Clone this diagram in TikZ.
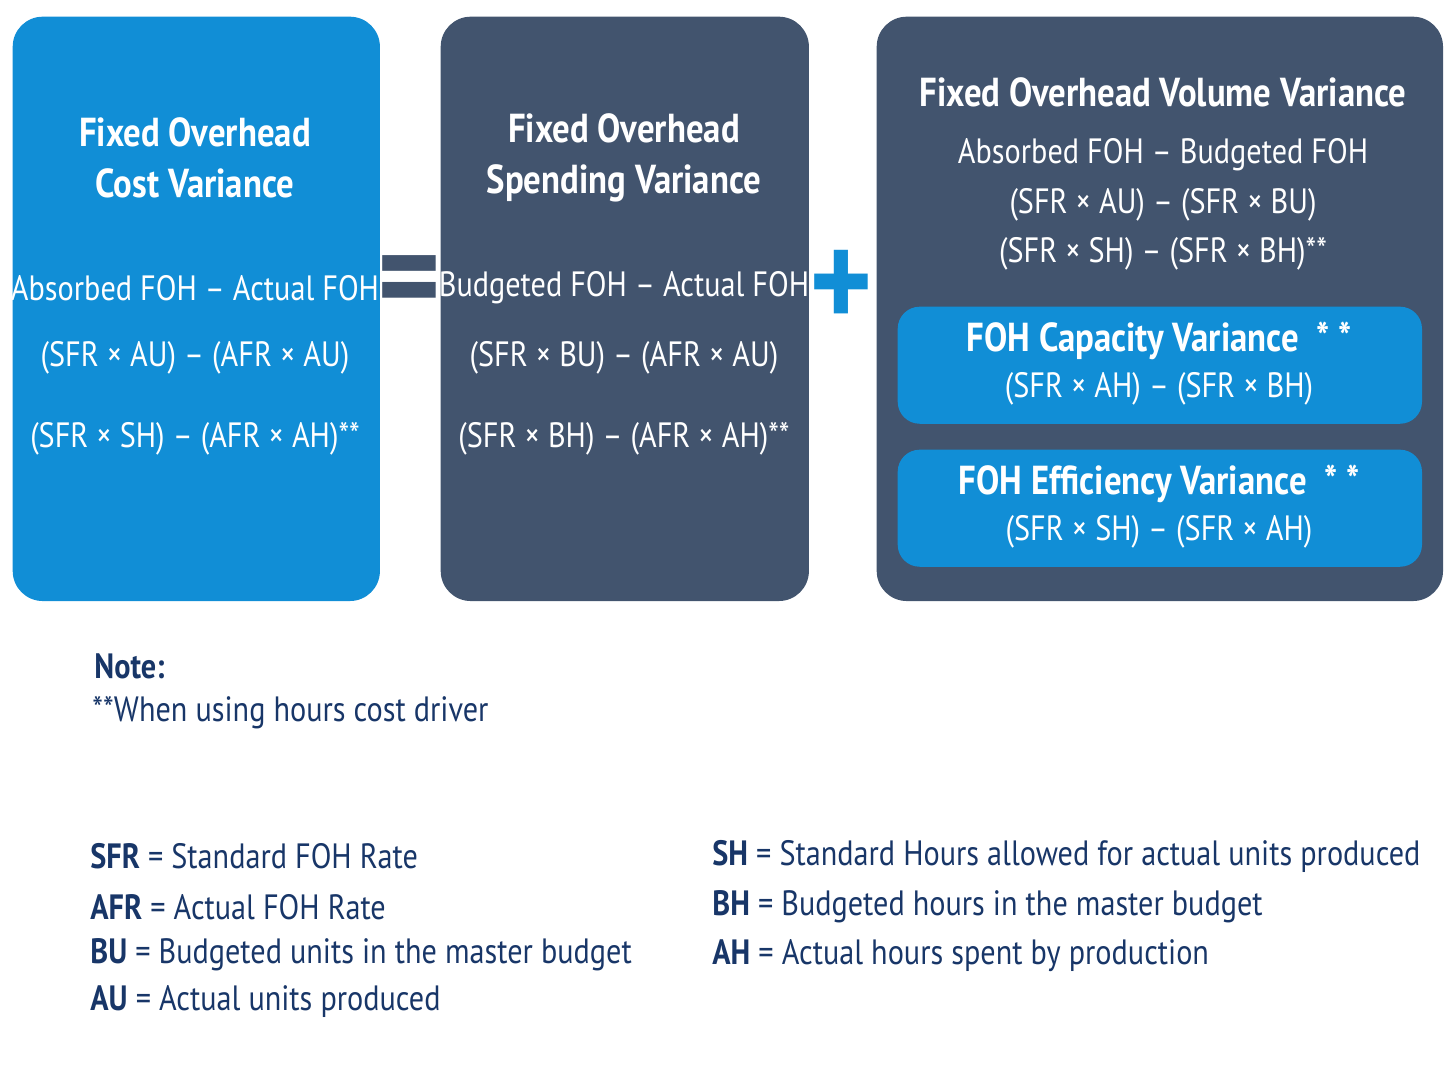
\documentclass[tikz,border=0pt]{standalone}
\usepackage{fontspec}
\setmainfont{PT Sans}[FakeStretch=0.86]
\usetikzlibrary{positioning}
\definecolor{skyblue}{RGB}{17,142,214}
\definecolor{slate}{RGB}{66,84,110}
\definecolor{navy}{RGB}{24,54,104}
\tikzset{
  box/.style={draw=none, rounded corners=0.3cm, anchor=north west},
  head/.style={text=white, font=\bfseries\fontsize{11.5}{14.5}\selectfont, align=center},
  line/.style={text=white, font=\fontsize{10}{12}\selectfont},
  term/.style={text=navy, font=\fontsize{10}{12}\selectfont, anchor=west}
}
\begin{document}
\begin{tikzpicture}[x=0.01cm, y=-0.01cm]
        \useasboundingbox (0,0) rectangle (1456,1080);
        % Boxes
        \node[box, fill=skyblue, minimum width=3.67cm, minimum height=5.84cm] (costbox) at (12,16) {};
        \node[box, fill=slate, minimum width=3.68cm, minimum height=5.84cm] (spendbox) at (440,16) {};
        \node[box, fill=slate, minimum width=5.66cm, minimum height=5.84cm] (volbox) at (876,16) {};
        \node[box, fill=skyblue, minimum width=5.24cm, minimum height=1.17cm, rounded corners=0.22cm] (capbox) at (897,306) {};
        \node[box, fill=skyblue, minimum width=5.24cm, minimum height=1.17cm, rounded corners=0.22cm] (effbox) at (897,449) {};
        % Cost variance
        \node[head] (costT) at (195,158) {Fixed Overhead\\Cost Variance};
        \node[line] (cost1) at (195,288) {Absorbed FOH – Actual FOH};
        \node[line] (cost2) at (195,358) {(SFR × AU) – (AFR × AU)};
        \node[line] (cost3) at (195,439) {(SFR × SH) – (AFR × AH)**};
        % Spending variance
        \node[head] (spendT) at (624,158) {Fixed Overhead\\Spending Variance};
        \node[line] (spend1) at (624,288) {Budgeted FOH – Actual FOH};
        \node[line] (spend2) at (624,358) {(SFR × BU) – (AFR × AU)};
        \node[line] (spend3) at (624,439) {(SFR × BH) – (AFR × AH)**};
        % Volume variance
        \node[head] (volT) at (1163,92) {Fixed Overhead Volume Variance};
        \node[line] (vol1) at (1163,155) {Absorbed FOH – Budgeted FOH};
        \node[line] (vol2) at (1163,205) {(SFR × AU) – (SFR × BU)};
        \node[line] (vol3) at (1163,254) {(SFR × SH) – (SFR × BH)**};
        \node[head] (capT) at (1159,341) {FOH Capacity Variance\ \ * *};
        \node[line] (cap1) at (1159,389) {(SFR × AH) – (SFR × BH)};
        \node[head] (effT) at (1159,484) {FOH Efficiency Variance\ \ * *};
        \node[line] (eff1) at (1159,532) {(SFR × SH) – (SFR × AH)};
        % Operators
        \node[text=slate, font=\bfseries\fontsize{40}{40}\selectfont] (eq) at (409,290) {=};
        \node[text=skyblue, font=\bfseries\fontsize{40}{40}\selectfont] (plus) at (841,290) {+};
        % Note
        \node[term, font=\bfseries\fontsize{10}{12}\selectfont] (note) at (82,666) {Note:};
        \node[term] (noteT) at (80,713) {**When using hours cost driver};
        % Legend
        \node[term] (sfr) at (78,856) {\textbf{SFR} = Standard FOH Rate};
        \node[term] (afr) at (78,907) {\textbf{AFR} = Actual FOH Rate};
        \node[term] (bu) at (78,955) {\textbf{BU} = Budgeted units in the master budget};
        \node[term] (au) at (78,1002) {\textbf{AU} = Actual units produced};
        \node[term] (sh) at (700,856) {\textbf{SH} = Standard Hours allowed for actual units produced};
        \node[term] (bh) at (700,907) {\textbf{BH} = Budgeted hours in the master budget};
        \node[term] (ah) at (700,956) {\textbf{AH} = Actual hours spent by production};
\end{tikzpicture}
\end{document}
